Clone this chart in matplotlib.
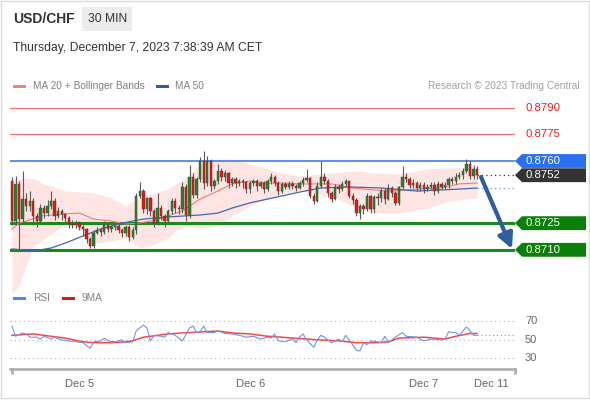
import matplotlib
matplotlib.use("Agg")
import matplotlib.pyplot as plt
import numpy as np
from matplotlib.patches import Polygon, Rectangle

plt.rcParams["font.family"] = ["Liberation Sans", "DejaVu Sans"]

# 30-min candles, USD/CHF
first_open = 0.87487
close = [0.87262, 0.87471, 0.87273, 0.87386, 0.87347, 0.87375, 0.87290, 0.87262, 0.87335, 0.87307,
         0.87347, 0.87375, 0.87290, 0.87319, 0.87302, 0.87279, 0.87245, 0.87240, 0.87251, 0.87228,
         0.87217, 0.87161, 0.87122, 0.87195, 0.87212, 0.87200, 0.87240, 0.87217, 0.87228, 0.87234,
         0.87212, 0.87195, 0.87228, 0.87172, 0.87212, 0.87403, 0.87431, 0.87330, 0.87392, 0.87319,
         0.87251, 0.87335, 0.87290, 0.87262, 0.87319, 0.87375, 0.87335, 0.87330, 0.87454, 0.87296,
         0.87510, 0.87409, 0.87499, 0.87600, 0.87476, 0.87600, 0.87459, 0.87487, 0.87544, 0.87510,
         0.87532, 0.87476, 0.87499, 0.87476, 0.87487, 0.87482, 0.87442, 0.87476, 0.87487, 0.87459,
         0.87476, 0.87442, 0.87487, 0.87510, 0.87476, 0.87431, 0.87471, 0.87454, 0.87471, 0.87459,
         0.87448, 0.87476, 0.87493, 0.87504, 0.87403, 0.87375, 0.87459, 0.87510, 0.87487, 0.87420,
         0.87386, 0.87454, 0.87442, 0.87471, 0.87487, 0.87403, 0.87381, 0.87307, 0.87347, 0.87330,
         0.87403, 0.87330, 0.87397, 0.87392, 0.87431, 0.87386, 0.87448, 0.87420, 0.87364, 0.87454,
         0.87510, 0.87499, 0.87465, 0.87476, 0.87448, 0.87465, 0.87442, 0.87454, 0.87465, 0.87431,
         0.87471, 0.87454, 0.87465, 0.87499, 0.87487, 0.87510, 0.87521, 0.87544, 0.87583, 0.87516,
         0.87555, 0.87521]
high = [0.87510, 0.87516, 0.87490, 0.87544, 0.87420, 0.87430, 0.87390, 0.87310, 0.87360, 0.87350,
        0.87380, 0.87430, 0.87390, 0.87340, 0.87330, 0.87310, 0.87290, 0.87270, 0.87270, 0.87260,
        0.87240, 0.87220, 0.87170, 0.87210, 0.87230, 0.87230, 0.87260, 0.87250, 0.87240, 0.87250,
        0.87250, 0.87220, 0.87240, 0.87240, 0.87230, 0.87420, 0.87480, 0.87440, 0.87400, 0.87400,
        0.87330, 0.87420, 0.87350, 0.87300, 0.87330, 0.87390, 0.87390, 0.87350, 0.87480, 0.87470,
        0.87580, 0.87530, 0.87510, 0.87620, 0.87656, 0.87630, 0.87610, 0.87500, 0.87583, 0.87560,
        0.87550, 0.87540, 0.87510, 0.87510, 0.87500, 0.87500, 0.87490, 0.87490, 0.87500, 0.87500,
        0.87490, 0.87490, 0.87500, 0.87530, 0.87520, 0.87490, 0.87480, 0.87480, 0.87490, 0.87490,
        0.87470, 0.87490, 0.87510, 0.87555, 0.87510, 0.87420, 0.87480, 0.87600, 0.87530, 0.87500,
        0.87430, 0.87470, 0.87470, 0.87490, 0.87500, 0.87490, 0.87420, 0.87390, 0.87360, 0.87360,
        0.87420, 0.87410, 0.87410, 0.87420, 0.87450, 0.87450, 0.87470, 0.87460, 0.87430, 0.87460,
        0.87572, 0.87530, 0.87510, 0.87500, 0.87490, 0.87480, 0.87480, 0.87470, 0.87480, 0.87480,
        0.87490, 0.87480, 0.87480, 0.87510, 0.87510, 0.87530, 0.87540, 0.87560, 0.87610, 0.87600,
        0.87580, 0.87570]
low = [0.87240, 0.87240, 0.87105, 0.87250, 0.87320, 0.87320, 0.87240, 0.87230, 0.87245, 0.87280,
       0.87290, 0.87330, 0.87270, 0.87280, 0.87270, 0.87250, 0.87220, 0.87220, 0.87225, 0.87210,
       0.87180, 0.87140, 0.87110, 0.87110, 0.87190, 0.87180, 0.87190, 0.87200, 0.87200, 0.87210,
       0.87195, 0.87170, 0.87180, 0.87150, 0.87160, 0.87190, 0.87390, 0.87310, 0.87300, 0.87290,
       0.87230, 0.87240, 0.87270, 0.87230, 0.87250, 0.87300, 0.87310, 0.87300, 0.87310, 0.87260,
       0.87280, 0.87390, 0.87390, 0.87480, 0.87440, 0.87460, 0.87430, 0.87440, 0.87470, 0.87490,
       0.87490, 0.87450, 0.87460, 0.87450, 0.87460, 0.87450, 0.87420, 0.87420, 0.87460, 0.87430,
       0.87450, 0.87420, 0.87430, 0.87470, 0.87460, 0.87410, 0.87420, 0.87440, 0.87440, 0.87440,
       0.87430, 0.87440, 0.87460, 0.87480, 0.87390, 0.87358, 0.87370, 0.87450, 0.87470, 0.87400,
       0.87370, 0.87380, 0.87420, 0.87430, 0.87460, 0.87390, 0.87360, 0.87290, 0.87273, 0.87300,
       0.87320, 0.87310, 0.87310, 0.87350, 0.87370, 0.87360, 0.87380, 0.87400, 0.87350, 0.87350,
       0.87440, 0.87480, 0.87450, 0.87450, 0.87430, 0.87430, 0.87420, 0.87430, 0.87440, 0.87410,
       0.87420, 0.87440, 0.87440, 0.87450, 0.87470, 0.87470, 0.87500, 0.87500, 0.87530, 0.87500,
       0.87500, 0.87500]
opens = [first_open] + close[:-1]

# indicators (bar index, value)
ma20_idx = [0, 2, 5, 8, 15, 19, 23, 28, 32, 36, 39, 44, 48, 53, 58, 62, 67, 72, 76, 81, 87, 90, 96, 102, 107, 114, 121, 126, 131]
ma20 = [0.87217, 0.87251, 0.87268, 0.87290, 0.87302, 0.87307, 0.87273, 0.87262, 0.87245, 0.87251,
        0.87262, 0.87290, 0.87319, 0.87386, 0.87431, 0.87471, 0.87487, 0.87476, 0.87476, 0.87471,
        0.87471, 0.87471, 0.87448, 0.87437, 0.87431, 0.87442, 0.87448, 0.87471, 0.87476]
ma50_idx = [0, 6, 11, 15, 20, 25, 30, 34, 37, 44, 48, 53, 58, 62, 67, 72, 76, 81, 87, 95, 104, 114, 121, 126, 131]
ma50 = [0.87105, 0.87093, 0.87110, 0.87138, 0.87178, 0.87217, 0.87245, 0.87262, 0.87273, 0.87285,
        0.87290, 0.87296, 0.87307, 0.87335, 0.87364, 0.87386, 0.87403, 0.87425, 0.87448, 0.87454,
        0.87448, 0.87431, 0.87437, 0.87442, 0.87448]
bb_idx = [0, 2, 6, 9, 15, 20, 23, 28, 32, 36, 39, 44, 46, 49, 53, 58, 62, 67, 72, 76, 81, 90, 97, 103, 109, 117, 123, 131]
bb_upper = [0.87499, 0.87500, 0.87504, 0.87471, 0.87431, 0.87425, 0.87420, 0.87392, 0.87347, 0.87392,
            0.87414, 0.87442, 0.87471, 0.87504, 0.87583, 0.87611, 0.87611, 0.87583, 0.87555, 0.87532,
            0.87516, 0.87532, 0.87544, 0.87532, 0.87527, 0.87555, 0.87561, 0.87561]
bb_lower = [0.86857, 0.86896, 0.87122, 0.87161, 0.87245, 0.87206, 0.87133, 0.87150, 0.87167, 0.87110,
            0.87122, 0.87167, 0.87206, 0.87234, 0.87223, 0.87234, 0.87290, 0.87347, 0.87386, 0.87414,
            0.87431, 0.87403, 0.87335, 0.87307, 0.87307, 0.87335, 0.87375, 0.87392]

rsi_idx = [0, 1, 3, 4, 5, 7, 8, 9, 11, 12, 14, 16, 18, 20, 22, 23, 25, 26, 27, 29, 31, 32, 34, 35, 37,
           38, 39, 40, 42, 43, 44, 46, 48, 50, 51, 52, 53, 54, 55, 57, 58, 60, 62, 64, 66, 68, 70, 72,
           73, 74, 75, 77, 79, 80, 81, 82, 83, 85, 86, 87, 88, 90, 92, 93, 94, 95, 97, 98, 99, 100, 101,
           103, 104, 105, 106, 108, 110, 111, 114, 116, 118, 121, 122, 123, 124, 125, 126, 128, 129, 130, 131]
rsi = [65, 54, 57.6, 56.5, 53, 53, 51, 54, 51, 53, 50, 49, 48, 47, 41, 48, 49, 52, 49, 48, 50, 47, 48, 60, 66,
       63, 49, 55, 54, 53, 58, 55, 49, 63, 65, 58, 59, 65, 58, 58, 60, 57, 56.5, 55, 53, 54, 51, 53,
       52, 56.5, 49, 48, 51, 47, 53, 56.5, 50, 42, 50, 55, 53, 47, 51, 48, 55, 50, 39, 38, 47, 45, 49,
       48, 47, 54, 47, 53, 58, 54, 53, 49, 51, 50, 51, 59, 58, 58, 55, 64, 60, 55, 55]
ma9_idx = [0, 6, 11, 15, 20, 23, 28, 32, 34, 37, 41, 44, 48, 53, 58, 62, 67, 72, 76, 81, 87, 92, 97, 103, 106, 109, 116, 122, 125, 129, 131]
ma9 = [55, 56.5, 54, 52, 48, 47, 47, 48, 49, 53, 55, 56.5, 57.6, 58.6, 59.7, 57.6, 56.5, 54, 53, 51.5,
       50, 49, 47, 47, 48, 52, 53, 51, 54, 57, 57]

levels_red = [0.8790, 0.8775]
level_res = 0.8760
level_last = 0.8752
levels_sup = [0.8725, 0.8710]
rsi_levels = [70, 50, 30]
date_pos = [18.9, 67.3, 115.8, 134.9]
date_labels = ["Dec 5", "Dec 6", "Dec 7", "Dec 11"]

W, H = 590, 400
fig = plt.figure(figsize=(W / 100, H / 100), dpi=100)
fig.patch.set_facecolor("white")

def frac(x0, y0, x1, y1):
    return [x0 / W, 1 - y1 / H, (x1 - x0) / W, (y1 - y0) / H]

# overlay for header and legends (pixel coords)
ov = fig.add_axes([0, 0, 1, 1])
ov.set_xlim(0, W)
ov.set_ylim(H, 0)
ov.axis("off")
ov.add_patch(Rectangle((0.5, 0.5), 588, 397, fill=False, ec="#dcdcdc", lw=1))
ov.add_patch(Rectangle((82, 7), 50, 24, fc="#ececec", ec="none"))
ov.text(13, 19, "USD/CHF", fontsize=10, fontweight="bold", color="#333333", va="center")
ov.text(88, 19, "30 MIN", fontsize=8.7, color="#333333", va="center")
ov.text(13, 48, "Thursday, December 7, 2023 7:38:39 AM CET", fontsize=8.7, color="#333333", va="center")
ov.add_patch(Rectangle((13, 84.5), 13, 3.5, fc="#f08080", ec="none"))
ov.text(33, 86, "MA 20 + Bollinger Bands", fontsize=7.3, color="#808080", va="center")
ov.add_patch(Rectangle((156, 84.5), 13, 3.5, fc="#2f5c9f", ec="none"))
ov.text(175, 86, "MA 50", fontsize=7.3, color="#808080", va="center")
ov.text(580, 86, "Research \u00a9 2023 Trading Central", fontsize=7.3, color="#a0a0a0", va="center", ha="right")
ov.add_patch(Rectangle((13, 296.5), 13, 3.5, fc="#5b82e6", ec="none"))
ov.text(33, 298, "RSI", fontsize=7.3, color="#808080", va="center")
ov.add_patch(Rectangle((62, 296.5), 13, 3.5, fc="#ee1111", ec="none"))
ov.text(82, 298, "9MA", fontsize=7.3, color="#808080", va="center")

# main price panel
x_left, x_right = (10 - 12) / 3.55, (515 - 12) / 3.55
ax = fig.add_axes(frac(10, 96, 515, 293))
ax.set_xlim(x_left, x_right)
p_top = 0.8760 + 65 * 0.0000563
p_bot = 0.8760 - 132 * 0.0000563
ax.set_ylim(p_bot, p_top)
ax.axis("off")

ax.fill_between(bb_idx, bb_lower, bb_upper, color="#ffdcdc", alpha=0.75, lw=0, zorder=1)
ax.plot(ma20_idx, ma20, color="#f07a7a", lw=0.8, zorder=2)
ax.plot(ma50_idx, ma50, color="#3d68b0", lw=0.9, zorder=2)
ax.plot([ma50_idx[-1], x_right], [ma50[-1], ma50[-1]], color="#6f8fcf", lw=0.9, ls=(0, (1, 2.5)), zorder=2)

for y in levels_red:
    ax.axhline(y, color="#f27070", lw=0.9, zorder=1)
ax.axhline(level_res, color="#4f86ea", lw=1.3, zorder=1)
for y in levels_sup:
    ax.axhline(y, color="#1a8a1a", lw=2.2, zorder=1)

n = len(close)
xs = np.arange(n)
o = np.array(opens)
c = np.array(close)
up = c >= o
ax.vlines(xs, low, high, color="#5a5a5a", lw=0.8, zorder=3)
bottoms = np.minimum(o, c)
heights = np.maximum(np.abs(c - o), 0.000025)
ax.bar(xs[up], heights[up], bottom=bottoms[up], width=0.66, color="#2e7d2e", ec="#2a4a2a", lw=0.3, zorder=4)
ax.bar(xs[~up], heights[~up], bottom=bottoms[~up], width=0.66, color="#d71e1e", ec="#6a2020", lw=0.3, zorder=4)

ax.plot([n - 1, x_right], [level_last, level_last], color="#333333", lw=0.9, ls=(0, (1, 2.5)), zorder=2)

# forecast arrow
ax.annotate("", xy=((512 - 12) / 3.55, 0.87105), xytext=((481 - 12) / 3.55, 0.87510),
            arrowprops=dict(arrowstyle="-|>,head_length=0.9,head_width=0.45", color="#2f5e9e", lw=3,
                            shrinkA=0, shrinkB=0), zorder=6)

# right-hand level labels
tip = x_right
box0 = (522 - 12) / 3.55
box1 = (586 - 12) / 3.55
hh = 0.00039

def tag(y, color):
    poly = Polygon([(tip, y), (box0, y + hh), (box1, y + hh), (box1, y - hh), (box0, y - hh)],
                   closed=True, fc=color, ec="none", clip_on=False, zorder=7)
    ax.add_patch(poly)
    ax.text((525 - 12) / 3.55, y, f"{y:.4f}", color="white", fontsize=8.2, va="center", ha="left",
            clip_on=False, zorder=8)

for y in levels_red:
    ax.text((525 - 12) / 3.55, y, f"{y:.4f}", color="#ee1c1c", fontsize=8.2, va="center", ha="left", clip_on=False)
tag(level_res, "#2a6ff0")
tag(level_last, "#333333")
for y in levels_sup:
    tag(y, "#0a800a")

# RSI panel
rx = fig.add_axes(frac(10, 305, 515, 369))
rx.set_xlim(x_left, x_right)
rx.set_ylim(18.6, 87.8)
for v in rsi_levels:
    rx.axhline(v, color="#b0b0b0", lw=0.8, ls=(0, (1, 3)))
    rx.text((525 - 12) / 3.55, v, str(v), color="#666666", fontsize=8, va="center", ha="left", clip_on=False)
rx.plot(ma9_idx, ma9, color="#ee1c1c", lw=1.1, alpha=0.8)
rx.plot(rsi_idx, rsi, color="#6f94ea", lw=0.8)
rx.plot([rsi_idx[-1], x_right], [rsi[-1], rsi[-1]], color="#6f94ea", lw=0.8, ls=(0, (1, 2.5)))
for s in ["top", "right", "left"]:
    rx.spines[s].set_visible(False)
rx.spines["bottom"].set_color("#aaaaaa")
rx.spines["bottom"].set_linewidth(1.8)
rx.set_yticks([])
rx.set_xticks(date_pos)
rx.set_xticklabels(date_labels, color="#666666", fontsize=8)
rx.tick_params(axis="x", length=0, pad=7.5)
for xe in [(12 - 12) / 3.55, x_right]:
    rx.plot([xe, xe], [18.6, 14.5], color="#aaaaaa", lw=1.8, clip_on=False)

fig.savefig("out.png", dpi=100)
